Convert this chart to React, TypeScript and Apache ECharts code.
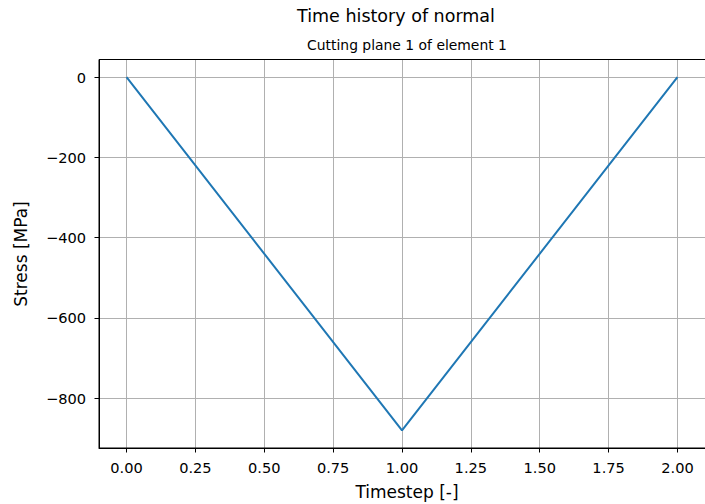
import React, { useEffect, useRef } from "react";
import * as echarts from "echarts";

const timesteps = [0, 1, 2];
const stress = [0, -880, 0];
const xTicks = [0, 0.25, 0.5, 0.75, 1.0, 1.25, 1.5, 1.75, 2.0];
const yTicks = [-800, -600, -400, -200, 0];

const FONT = "DejaVu Sans";

export default function App() {
  const ref = useRef<HTMLDivElement>(null);
  useEffect(() => {
    document.body.style.margin = "0";
    const chart = echarts.init(ref.current!, null, { renderer: "svg" });
    const data = timesteps.map((t, i) => [t, stress[i]]);
    chart.setOption({
      animation: false,
      backgroundColor: "#ffffff",
      textStyle: { fontFamily: FONT },
      grid: { left: 99, top: 59.5, width: 616, height: 388.5, containLabel: false },
      xAxis: {
        type: "value",
        min: -0.1,
        max: 2.1,
        axisLine: { show: true, onZero: false, lineStyle: { color: "#000", width: 1 } },
        axisTick: { show: true, length: 4.5, customValues: xTicks, lineStyle: { color: "#000", width: 1 } },
        axisLabel: {
          customValues: xTicks,
          margin: 11.5,
          color: "#000",
          fontFamily: FONT,
          fontSize: 14.6,
          formatter: (v: number) => v.toFixed(2),
        },
        splitLine: { show: true, lineStyle: { color: "#b0b0b0", width: 1 } },
      },
      yAxis: {
        type: "value",
        min: -924,
        max: 44,
        axisLine: { show: true, onZero: false, lineStyle: { color: "#000", width: 1 } },
        axisTick: { show: true, length: 4.5, customValues: yTicks, lineStyle: { color: "#000", width: 1 } },
        axisLabel: {
          customValues: yTicks,
          margin: 13,
          color: "#000",
          fontFamily: FONT,
          fontSize: 14.6,
          formatter: (v: number) => (v < 0 ? "\u2212" + Math.abs(v) : String(v)),
        },
        splitLine: { show: true, lineStyle: { color: "#b0b0b0", width: 1 } },
      },
      series: [
        {
          type: "line",
          data,
          showSymbol: false,
          symbol: "none",
          lineStyle: { color: "#1f77b4", width: 2 },
          z: 5,
        },
      ],
      graphic: [
        {
          type: "rect",
          shape: { x: 99, y: 59.5, width: 616, height: 388.5 },
          style: { fill: "none", stroke: "#000", lineWidth: 1 },
          silent: true,
          z: 10,
        },
        {
          type: "text",
          x: 396,
          y: 16,
          style: { text: "Time history of normal", fontFamily: FONT, fontSize: 17.5, fill: "#000", align: "center", verticalAlign: "middle" },
        },
        {
          type: "text",
          x: 407,
          y: 45,
          style: { text: "Cutting plane 1 of element 1", fontFamily: FONT, fontSize: 13.9, fill: "#000", align: "center", verticalAlign: "middle" },
        },
        {
          type: "text",
          x: 407,
          y: 492,
          style: { text: "Timestep [-]", fontFamily: FONT, fontSize: 17, fill: "#000", align: "center", verticalAlign: "middle" },
        },
        {
          type: "text",
          x: 21,
          y: 254,
          rotation: Math.PI / 2,
          style: { text: "Stress [MPa]", fontFamily: FONT, fontSize: 17, fill: "#000", align: "center", verticalAlign: "middle" },
        },
      ],
    });
    return () => chart.dispose();
  }, []);
  return <div ref={ref} style={{ width: 705, height: 504 }} />;
}
